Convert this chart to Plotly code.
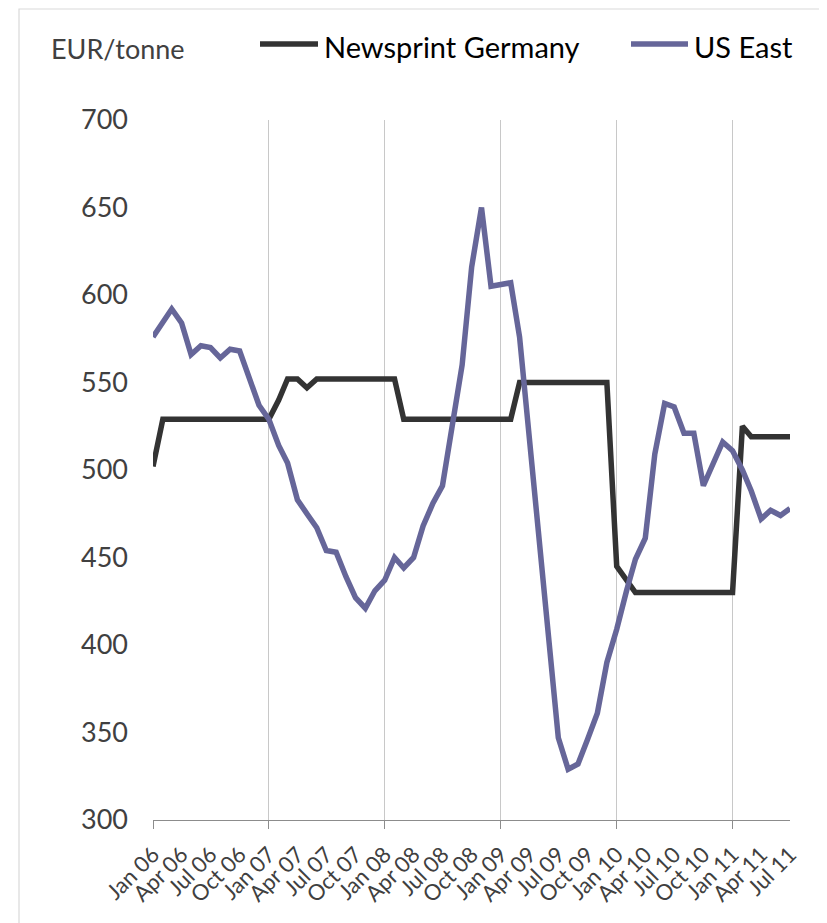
import pandas as pd
import plotly.graph_objects as go

# Monthly observations, Jan 2006 .. Jul 2011
months = pd.date_range("2006-01-01", "2011-07-01", freq="MS")

newsprint_germany = [
    502, 529, 529, 529, 529, 529, 529, 529, 529, 529, 529, 529,
    529, 540, 552, 552, 547, 552, 552, 552, 552, 552, 552, 552,
    552, 552, 529, 529, 529, 529, 529, 529, 529, 529, 529, 529,
    529, 529, 550, 550, 550, 550, 550, 550, 550, 550, 550, 550,
    445, 437, 430, 430, 430, 430, 430, 430, 430, 430, 430, 430,
    430, 525, 519, 519, 519, 519, 519,
]

us_east = [
    576, 585, 592, 584, 566, 571, 570, 564, 569, 568, 553, 537,
    529, 514, 504, 483, 475, 467, 454, 453, 439, 427, 421, 431,
    437, 450, 444, 450, 468, 481, 491, 525, 560, 616, 650, 605,
    606, 607, 576, 517, 461, 398, 347, 329, 332, 346, 361, 390,
    409, 431, 449, 461, 509, 538, 536, 521, 521, 491, 503, 516,
    511, 500, 488, 472, 477, 474, 478,
]

series_names = ["Newsprint Germany", "US East"]
series_colors = ["#333333", "#666699"]
unit_label = "EUR/tonne"

OFF = 8  # default page margin of the html body
W, H = 827 - OFF, 923 - OFF
# plot area in page pixels: x 153..790, y 120..820
ML, MR, MT, MB = 153 - OFF, W - (790 - OFF), 120 - OFF, H - (820 - OFF)
PW, PH = W - ML - MR, H - MT - MB


def px(x):
    """page pixel x -> paper coordinate"""
    return (x - OFF - ML) / PW


def py(y):
    """page pixel y -> paper coordinate"""
    return (H - MB - (y - OFF)) / PH


FONT = "Lato, Carlito, Calibri, sans-serif"
TXT = "#404040"

fig = go.Figure()
for name, vals, col in zip(series_names, [newsprint_germany, us_east], series_colors):
    fig.add_trace(go.Scatter(
        x=months, y=vals, name=name, mode="lines",
        line=dict(color=col, width=5.5, shape="linear"),
        showlegend=False,
    ))

# border around the whole chart
fig.add_shape(type="rect", xref="paper", yref="paper",
              x0=px(19), x1=px(825), y0=py(940), y1=py(9),
              line=dict(color="#d9d9d9", width=1.2), layer="below")

# unit label
fig.add_annotation(text=unit_label, xref="paper", yref="paper",
                   x=px(49), y=py(48), xanchor="left", yanchor="middle",
                   showarrow=False, font=dict(family=FONT, size=27, color=TXT))

# manual legend
legend_pos = [(260, 318, 322), (631, 688, 692)]
for (lx0, lx1, tx), name, col in zip(legend_pos, series_names, series_colors):
    fig.add_shape(type="line", xref="paper", yref="paper",
                  x0=px(lx0), x1=px(lx1), y0=py(44), y1=py(44),
                  line=dict(color=col, width=5.5))
    fig.add_annotation(text=name, xref="paper", yref="paper",
                       x=px(tx), y=py(46), xanchor="left", yanchor="middle",
                       showarrow=False, font=dict(family=FONT, size=29, color="#000000"))

fig.update_layout(
    width=W, height=H,
    margin=dict(l=ML, r=MR, t=MT, b=MB, autoexpand=False),
    paper_bgcolor="white", plot_bgcolor="white",
    font=dict(family=FONT, color=TXT),
    showlegend=False,
    xaxis=dict(
        type="date",
        range=["2006-01-01", "2011-07-01"],
        tick0="2006-01-01", dtick="M3", tickformat="%b %y",
        tickangle=-45, tickfont=dict(family=FONT, size=22, color=TXT),
        ticklabelstandoff=12,
        showgrid=False, ticks="",
        showline=True, linecolor="#8c8c8c", linewidth=1.3,
        zeroline=False, automargin=False,
    ),
    # yearly gridlines and tick marks
    xaxis2=dict(
        type="date", overlaying="x", anchor="y", side="bottom",
        range=["2006-01-01", "2011-07-01"],
        tick0="2006-01-01", dtick="M12",
        showticklabels=False, showgrid=True,
        gridcolor="#c8c8c8", gridwidth=1.2,
        ticks="outside", ticklen=8, tickcolor="#8c8c8c", tickwidth=1,
        showline=False, zeroline=False, automargin=False,
    ),
    yaxis=dict(
        range=[300, 700], dtick=50, tick0=300,
        showgrid=False, zeroline=False, showline=False,
        ticks="", ticklabelstandoff=24,
        tickfont=dict(family=FONT, size=27, color=TXT),
        automargin=False,
    ),
)

# invisible helper trace so the yearly axis is drawn
fig.add_trace(go.Scatter(x=[months[0]], y=[None], xaxis="x2", yaxis="y",
                         mode="lines", showlegend=False, hoverinfo="skip"))

fig.write_html("out.html")
